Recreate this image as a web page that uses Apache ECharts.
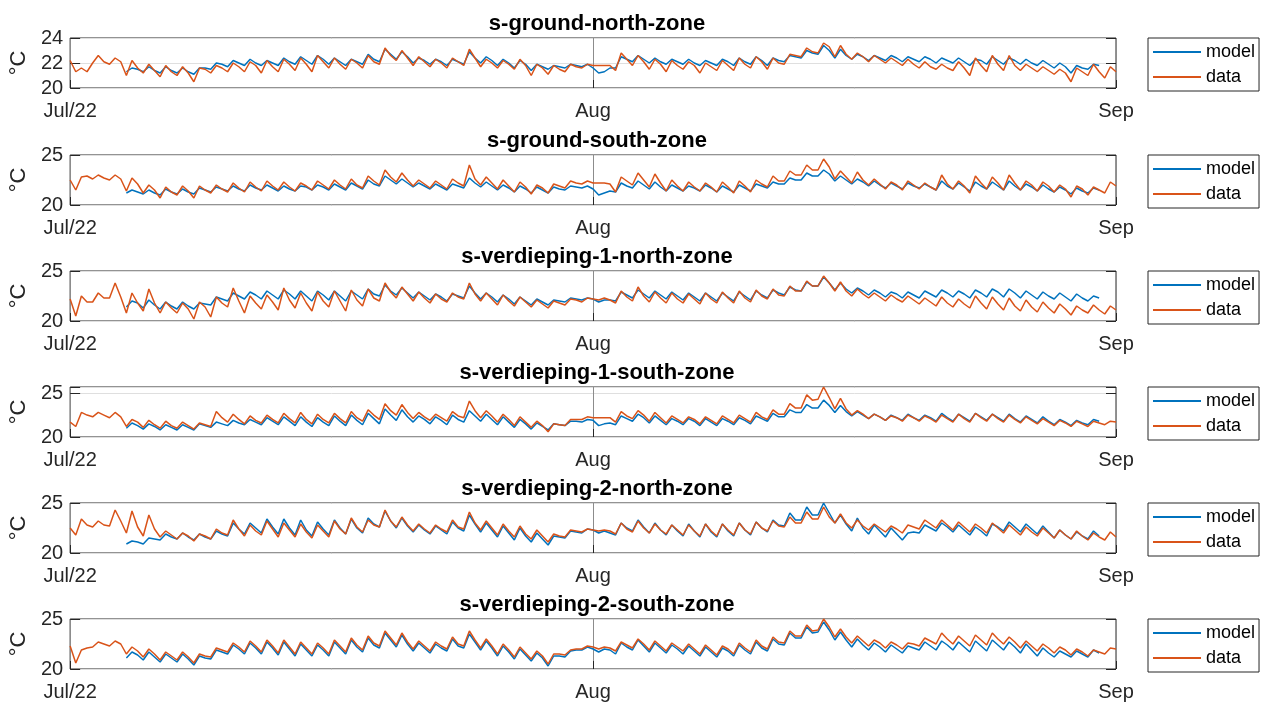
<!DOCTYPE html>
<html>
<head>
<meta charset="utf-8">
<script src="https://cdn.jsdelivr.net/npm/echarts/dist/echarts.min.js"></script>
<style>html,body{margin:0;padding:0;background:#fff}#c{width:1261px;height:704px}</style>
</head>
<body>
<div id="c"></div>
<script>
// Time axis: days since Jul 1 2022; samples every 8 hours
const STEP_DAYS = 1/3;
const MODEL_OFFSET = 10; // model starts Jul 4 08:00 (10 samples after Jul 1 00:00)
const xTickDays = [0, 31, 62];
const xTickLabels = ['Jul/22', 'Aug', 'Sep'];
const titles = ['s-ground-north-zone','s-ground-south-zone','s-verdieping-1-north-zone','s-verdieping-1-south-zone','s-verdieping-2-north-zone','s-verdieping-2-south-zone'];
const yMins = [20,20,20,20,20,20];
const yMaxs = [24,25,25,25.7,25,25];
const yTicks = [[20,22,24],[20,25],[20,25],[20,25],[20,25],[20,25]];
const seriesNames = ['model','data'];

const data1 = [22.2,21.3,21.6,21.3,22.0,22.6,22.1,21.9,22.4,22.1,21.0,22.2,21.6,21.2,21.9,21.4,20.9,21.8,21.3,21.0,21.7,21.2,20.5,21.6,21.5,21.2,21.8,21.6,21.3,22.0,
21.7,21.3,22.1,21.8,21.2,22.2,21.7,21.3,22.3,21.9,21.4,22.4,21.9,21.3,22.6,22.1,21.6,22.4,21.9,21.5,22.3,22.0,21.6,22.6,22.1,21.9,23.2,22.6,22.2,23.0,
22.4,21.8,22.5,22.1,21.7,22.3,22.0,21.6,22.4,22.1,21.8,23.1,22.4,21.7,22.3,22.0,21.6,22.2,21.9,21.5,22.3,21.8,21.0,21.9,21.6,21.1,21.8,21.5,21.3,21.9,
21.7,21.6,21.9,21.8,21.8,21.8,21.8,21.4,22.8,22.3,21.8,22.6,22.1,21.5,22.3,21.9,21.3,22.2,21.8,21.5,22.1,21.8,21.2,22.0,21.7,21.4,22.2,21.8,21.4,22.4,
21.9,21.6,22.5,22.1,21.5,22.4,22.0,21.9,22.7,22.6,22.5,23.2,22.9,22.8,23.6,23.3,22.5,23.4,22.7,22.3,22.8,22.5,22.1,22.6,22.3,22.0,22.4,22.1,21.8,22.3,
21.9,21.6,22.1,21.7,21.5,21.9,21.6,21.4,22.1,21.6,21.0,22.4,21.8,21.3,22.6,21.9,21.4,22.6,21.8,21.4,21.9,21.6,21.3,21.7,21.4,21.1,21.5,21.2,20.5,21.6,
21.3,21.0,21.9,21.3,20.8,21.7,21.3];
const model1 = [21.3,21.6,
21.5,21.3,21.7,21.4,21.2,21.7,21.4,21.2,21.6,21.3,21.1,21.6,21.6,21.5,22.0,21.9,21.7,22.2,
22.0,21.8,22.3,22.0,21.8,22.2,22.0,21.8,22.4,22.1,21.9,22.5,22.2,21.9,22.6,22.3,21.9,22.4,22.1,21.8,22.3,22.1,21.9,22.7,22.3,22.1,23.1,22.7,22.3,22.9,
22.5,22.0,22.4,22.2,21.9,22.3,22.1,21.8,22.3,22.1,21.9,22.9,22.4,22.0,22.5,22.2,21.8,22.3,22.0,21.6,22.2,21.9,21.4,21.9,21.7,21.5,21.8,21.7,21.6,21.9,
21.8,21.7,21.9,21.6,21.2,21.3,21.6,21.6,22.5,22.3,22.1,22.6,22.3,22.0,22.4,22.1,21.9,22.3,22.1,21.9,22.3,22.0,21.8,22.2,22.0,21.8,22.3,22.1,21.8,22.4,
22.1,21.9,22.5,22.2,21.8,22.4,22.2,22.1,22.6,22.5,22.4,23.0,22.8,22.7,23.4,23.0,22.4,23.1,22.6,22.3,22.7,22.5,22.2,22.6,22.4,22.2,22.6,22.4,22.1,22.5,
22.3,22.1,22.5,22.3,22.0,22.4,22.2,22.0,22.4,22.1,21.8,22.3,22.2,21.9,22.5,22.2,21.9,22.4,22.2,21.9,22.3,22.0,21.8,22.2,21.9,21.6,22.0,21.7,21.2,21.8,
21.6,21.5,21.9,21.8];

const data2 = [22.5,21.5,22.8,22.9,22.6,23.0,22.7,22.5,23.0,22.6,21.4,22.7,22.1,21.2,22.0,21.5,20.7,21.8,21.3,21.0,21.9,21.4,20.7,21.9,21.5,21.2,22.0,21.6,21.3,22.2,
21.7,21.3,22.3,21.8,21.4,22.4,21.9,21.5,22.3,21.8,21.4,22.2,21.9,21.5,22.4,22.0,21.6,22.5,22.0,21.6,22.6,22.0,21.7,22.9,22.4,22.0,23.5,22.8,22.3,23.2,
22.5,21.9,22.5,22.1,21.7,22.4,22.0,21.6,22.6,22.2,21.9,24.0,22.6,22.0,22.8,22.2,21.6,22.5,21.9,21.3,22.3,21.8,21.1,22.0,21.7,21.2,22.1,21.9,21.7,22.4,
22.2,22.1,22.4,22.2,22.2,22.2,22.1,21.3,22.8,22.4,22.0,23.2,22.5,21.8,23.1,22.2,21.4,22.5,21.9,21.4,22.3,21.8,21.4,22.2,21.8,21.3,22.3,21.8,21.2,22.4,
21.9,21.3,22.5,22.1,21.8,22.9,22.4,22.4,23.4,23.0,23.0,24.0,23.5,23.5,24.6,23.8,22.6,23.4,22.8,22.2,23.3,22.5,22.0,22.6,22.1,21.6,22.3,22.0,21.5,22.4,
22.0,21.6,22.2,21.8,21.5,23.0,22.1,21.6,22.4,21.9,21.2,22.9,22.2,21.6,22.8,22.2,21.5,23.0,22.2,21.5,22.4,22.0,21.4,22.3,21.9,21.3,22.0,21.6,20.8,21.9,
21.6,21.0,21.8,21.5,21.2,22.3,21.9];
const model2 = [21.2,21.5,
21.3,21.1,21.5,21.2,21.0,21.6,21.3,21.1,21.6,21.3,21.1,21.7,21.5,21.3,21.8,21.6,21.4,21.9,
21.6,21.4,22.0,21.7,21.5,22.0,21.7,21.4,21.9,21.6,21.4,21.9,21.8,21.5,22.0,21.8,21.5,22.1,21.8,21.5,22.2,21.9,21.6,22.5,22.1,21.9,22.9,22.5,22.1,22.6,
22.2,21.8,22.2,21.9,21.6,22.1,21.8,21.5,22.1,21.9,21.7,22.7,22.2,21.8,22.3,21.9,21.5,22.0,21.7,21.3,21.9,21.6,21.2,21.8,21.5,21.2,21.8,21.6,21.5,21.9,
21.8,21.7,21.9,21.6,21.0,21.2,21.4,21.3,22.2,21.9,21.7,22.4,22.0,21.6,22.3,21.8,21.4,22.0,21.7,21.4,21.9,21.7,21.4,22.0,21.7,21.3,21.9,21.6,21.3,22.0,
21.7,21.4,22.1,21.9,21.7,22.3,22.1,22.1,22.7,22.5,22.5,23.2,22.9,22.9,23.5,23.1,22.4,22.9,22.5,22.1,22.6,22.3,21.9,22.4,22.0,21.7,22.2,21.9,21.6,22.2,
21.9,21.7,22.1,21.8,21.5,22.4,21.9,21.6,22.2,21.8,21.4,22.3,21.9,21.6,22.3,21.9,21.5,22.4,21.9,21.5,22.1,21.8,21.4,22.0,21.6,21.3,21.8,21.5,21.1,21.7,
21.4,21.2,21.7,21.5];

const data3 = [22.2,20.5,22.5,21.9,21.9,22.8,22.3,22.3,23.8,22.4,20.8,22.8,21.8,21.0,23.2,21.8,20.8,21.9,21.3,20.8,21.8,21.2,20.2,21.9,21.4,20.4,22.4,21.8,21.4,23.3,
22.0,20.8,22.5,21.8,21.2,22.6,21.9,21.1,23.3,22.1,21.3,22.8,21.8,21.0,22.9,22.0,21.4,23.0,22.0,21.0,23.1,22.1,21.5,23.2,22.3,22.0,23.8,22.9,22.3,23.4,
22.7,22.0,22.9,22.3,21.8,22.7,22.2,21.9,22.8,22.4,22.2,23.8,22.7,22.0,22.8,22.2,21.6,22.6,22.0,21.5,22.4,21.9,21.4,22.1,21.7,21.3,22.0,21.8,21.6,22.2,
22.1,21.9,22.3,22.2,22.1,22.3,22.1,21.8,23.0,22.4,22.0,23.4,22.5,21.9,22.9,22.3,21.8,22.8,22.2,21.8,22.7,22.2,21.7,22.8,22.2,21.8,22.9,22.3,21.8,23.0,
22.3,21.9,23.1,22.5,22.2,23.2,22.6,22.5,23.5,23.0,23.0,24.0,23.5,23.5,24.5,23.8,23.0,23.9,23.0,22.5,23.2,22.7,22.3,22.8,22.4,22.0,22.6,22.2,21.9,22.5,
22.1,21.7,22.3,21.9,21.5,22.4,21.8,21.4,22.2,21.7,21.3,22.5,21.8,21.2,22.4,21.7,21.1,22.3,21.5,21.0,22.1,21.4,20.9,21.9,21.3,20.8,21.7,21.2,20.6,21.5,
21.1,20.8,21.6,21.1,20.7,21.5,21.1];
const model3 = [21.4,22.0,
21.8,21.3,22.1,21.6,21.2,21.9,21.5,21.2,21.9,21.5,21.2,21.8,21.7,21.6,22.4,22.2,22.0,22.8,
22.5,22.2,22.9,22.6,22.2,23.0,22.6,22.2,23.1,22.7,22.2,23.0,22.5,22.0,23.0,22.6,22.1,23.0,22.5,22.0,23.0,22.6,22.2,23.2,22.7,22.5,23.6,23.0,22.6,23.3,
22.8,22.3,22.9,22.5,22.1,22.7,22.4,22.0,22.7,22.5,22.3,23.5,22.8,22.2,22.8,22.4,21.9,22.6,22.2,21.7,22.4,22.0,21.6,22.2,21.9,21.6,22.1,22.0,21.9,22.3,
22.2,22.1,22.3,22.2,21.9,22.1,22.1,22.0,22.9,22.6,22.3,23.1,22.7,22.3,23.0,22.6,22.2,22.9,22.5,22.1,22.8,22.4,22.0,22.8,22.4,22.0,22.8,22.4,22.0,22.9,
22.5,22.1,23.0,22.6,22.3,23.1,22.8,22.6,23.4,23.1,23.0,23.9,23.5,23.5,24.4,23.8,23.1,23.8,23.2,22.8,23.3,23.0,22.6,23.1,22.8,22.4,22.9,22.7,22.3,22.9,
22.6,22.3,23.0,22.7,22.4,23.1,22.8,22.4,23.0,22.7,22.3,23.1,22.8,22.4,23.2,22.9,22.4,23.2,22.8,22.3,23.0,22.6,22.2,22.9,22.5,22.2,22.8,22.4,22.0,22.7,
22.3,22.0,22.5,22.3];

const data4 = [21.7,21.2,22.8,22.5,22.3,22.8,22.5,22.2,22.8,22.3,21.2,22.0,21.7,21.1,21.9,21.4,21.0,21.8,21.3,21.0,21.7,21.3,20.9,21.6,21.4,21.2,22.9,22.2,21.7,22.6,
22.0,21.5,22.4,21.9,21.6,22.5,22.0,21.6,22.7,22.1,21.6,22.8,22.0,21.5,22.6,22.0,21.6,22.7,22.1,21.6,22.9,22.2,21.8,23.1,22.5,22.0,23.8,23.0,22.5,23.7,
22.8,22.1,22.8,22.3,21.9,22.6,22.2,21.8,22.9,22.4,22.2,24.1,23.0,22.2,23.0,22.4,21.7,22.6,22.0,21.3,22.3,21.7,21.1,21.8,21.3,20.6,21.5,21.4,21.3,22.0,
22.0,22.0,22.3,22.2,22.2,22.2,22.2,21.7,22.9,22.4,22.1,23.0,22.5,21.8,22.8,22.2,21.6,22.4,22.0,21.6,22.3,22.0,21.5,22.3,21.9,21.5,22.4,22.0,21.6,22.5,
22.1,21.7,22.8,22.3,22.0,23.1,22.6,22.6,23.8,23.3,23.3,24.8,24.2,24.3,25.7,24.5,23.2,24.4,23.2,22.5,23.0,22.6,22.1,22.6,22.3,21.9,22.4,22.2,21.8,22.5,
22.2,21.8,22.4,22.1,21.7,22.5,22.1,21.7,22.6,22.1,21.7,22.7,22.2,21.8,22.6,22.1,21.7,22.5,22.0,21.6,22.3,21.9,21.5,22.1,21.7,21.3,21.9,21.6,21.2,21.8,
21.5,21.2,21.8,21.6,21.4,21.8,21.7];
const model4 = [21.0,21.6,
21.3,20.9,21.5,21.2,20.8,21.4,21.1,20.8,21.4,21.1,20.8,21.5,21.3,21.1,21.7,21.5,21.3,21.9,
21.6,21.4,22.0,21.7,21.4,22.2,21.8,21.4,22.3,21.8,21.3,22.3,21.7,21.2,22.2,21.7,21.3,22.4,21.8,21.3,22.5,21.9,21.4,22.7,22.1,21.5,23.2,22.5,21.9,23.1,
22.3,21.7,22.4,22.0,21.5,22.3,21.9,21.4,22.5,22.0,21.7,23.0,22.4,21.8,22.6,22.0,21.4,22.3,21.7,21.1,22.0,21.5,20.9,21.6,21.2,20.8,21.5,21.4,21.3,21.8,
21.8,21.7,22.0,21.9,21.3,21.5,21.6,21.4,22.4,22.1,21.8,22.6,22.2,21.6,22.4,21.9,21.4,22.1,21.8,21.4,22.1,21.8,21.3,22.1,21.7,21.3,22.1,21.8,21.4,22.2,
21.9,21.5,22.4,22.1,21.8,22.7,22.3,22.3,23.1,22.8,22.8,23.7,23.3,23.3,24.2,23.6,22.8,23.6,22.9,22.4,22.9,22.5,22.1,22.6,22.3,21.9,22.5,22.2,21.9,22.6,
22.2,21.9,22.5,22.2,21.8,22.7,22.2,21.8,22.6,22.2,21.8,22.7,22.3,21.9,22.6,22.2,21.8,22.6,22.1,21.7,22.4,22.0,21.6,22.3,21.8,21.4,22.0,21.7,21.3,21.9,
21.6,21.4,22.0,21.8];

const data5 = [22.5,21.8,23.4,22.8,22.6,23.2,22.8,22.7,24.3,23.2,22.0,24.2,22.6,21.7,23.8,22.4,21.6,22.2,21.8,21.4,22.0,21.7,21.2,21.9,21.7,21.4,22.4,22.0,21.8,23.3,
22.4,21.7,22.8,22.2,21.8,23.2,22.4,21.6,23.0,22.3,21.6,22.9,22.1,21.5,22.8,22.2,21.6,23.2,22.4,21.9,23.5,22.6,22.1,23.3,22.8,22.6,24.3,23.2,22.6,23.6,
22.8,22.2,22.9,22.4,22.0,22.8,22.4,22.1,23.3,22.6,22.4,24.1,23.0,22.3,23.2,22.5,21.8,22.9,22.2,21.6,22.7,21.9,21.4,22.3,21.7,21.1,21.9,21.7,21.6,22.3,
22.2,22.1,22.4,22.3,22.2,22.3,22.2,21.9,23.0,22.4,22.1,23.2,22.5,22.0,22.9,22.3,21.9,22.8,22.3,21.8,22.8,22.2,21.7,22.9,22.2,21.7,22.9,22.3,21.8,23.0,
22.3,21.9,23.1,22.5,22.2,23.2,22.7,22.6,23.6,23.0,23.0,24.1,23.4,23.4,24.6,23.6,23.0,23.9,23.0,22.5,23.3,22.7,22.3,22.9,22.5,22.1,22.7,22.4,22.0,22.8,
22.6,22.4,23.3,22.9,22.5,23.3,22.8,22.3,23.1,22.6,22.1,22.9,22.5,22.0,23.0,22.5,22.0,22.8,22.3,21.8,22.6,22.1,21.7,22.5,22.0,21.5,22.3,21.8,21.4,22.2,
21.7,21.3,22.0,21.6,21.3,22.1,21.6];
const model5 = [20.9,21.2,
21.1,20.9,21.5,21.4,21.3,21.9,21.6,21.4,22.0,21.6,21.3,21.9,21.6,21.4,22.2,21.9,21.7,23.0,
22.4,21.9,23.0,22.5,22.0,23.4,22.6,21.9,23.4,22.5,21.8,23.3,22.3,21.7,23.1,22.4,21.8,23.3,22.5,21.9,23.4,22.5,22.0,23.5,22.9,22.6,24.2,23.2,22.5,23.5,
22.7,22.1,22.8,22.3,21.9,22.7,22.3,21.9,23.1,22.5,22.2,23.8,22.9,22.1,23.0,22.3,21.6,22.7,22.0,21.3,22.5,21.7,21.1,22.0,21.4,20.8,21.7,21.6,21.5,22.2,
22.1,22.0,22.4,22.3,22.0,22.2,22.0,21.8,23.0,22.5,22.2,23.3,22.6,22.0,23.0,22.3,21.8,22.8,22.2,21.7,22.9,22.2,21.6,22.9,22.1,21.6,22.9,22.2,21.7,23.0,
22.3,21.8,23.1,22.5,22.1,23.3,22.8,22.7,24.0,23.3,23.3,24.6,23.8,23.8,25.0,24.0,23.0,23.8,22.9,22.2,23.5,22.5,21.9,22.8,22.2,21.6,22.5,21.9,21.3,22.0,
22.1,22.0,22.8,22.5,22.2,23.0,22.6,22.1,22.8,22.3,21.8,22.6,22.2,21.7,22.9,22.6,22.2,23.1,22.6,22.1,22.9,22.4,21.9,22.7,22.1,21.5,22.3,21.8,21.4,22.1,
21.7,21.4,22.2,21.7];

const data6 = [22.3,20.6,21.9,22.1,22.2,22.7,22.5,22.3,22.8,22.5,21.5,22.2,21.8,21.2,22.0,21.5,20.9,21.7,21.3,20.9,21.7,21.2,20.6,21.5,21.3,21.2,22.1,21.9,21.7,22.6,
22.2,21.7,22.8,22.3,21.7,22.9,22.3,21.6,22.9,22.2,21.5,22.7,22.1,21.5,22.6,22.1,21.5,22.9,22.3,21.7,23.1,22.4,21.9,23.3,22.6,22.3,23.8,23.1,22.4,23.6,
22.7,22.0,22.8,22.3,21.8,22.7,22.3,22.0,23.2,22.5,22.3,23.8,22.9,22.1,23.0,22.3,21.5,22.5,21.9,21.2,22.2,21.6,21.0,21.8,21.3,20.5,21.5,21.5,21.4,21.9,
22.0,22.0,22.3,22.2,22.0,22.2,22.1,21.8,22.7,22.4,22.1,23.0,22.5,21.9,22.8,22.3,21.8,22.6,22.2,21.8,22.5,22.0,21.5,22.4,21.9,21.4,22.3,22.0,21.5,22.6,
22.1,21.7,22.9,22.3,22.0,23.2,22.7,22.6,23.8,23.3,23.3,24.4,23.8,23.9,25.0,24.2,23.2,24.0,23.2,22.6,23.3,22.8,22.3,22.9,22.6,22.1,22.7,22.4,22.0,22.6,
22.5,22.3,23.1,22.8,22.5,23.6,23.0,22.5,23.3,22.8,22.3,23.4,22.9,22.4,23.6,23.0,22.5,23.2,22.7,22.1,22.8,22.3,21.8,22.5,22.1,21.6,22.2,21.9,21.4,22.0,
21.7,21.3,21.9,21.7,21.5,22.1,22.0];
const model6 = [21.1,21.7,
21.4,20.9,21.7,21.2,20.7,21.5,21.1,20.7,21.5,21.0,20.4,21.3,21.1,21.0,21.9,21.7,21.5,22.4,
22.0,21.5,22.6,22.1,21.5,22.7,22.1,21.4,22.7,22.0,21.3,22.5,21.9,21.3,22.4,21.9,21.3,22.7,22.1,21.5,22.9,22.2,21.7,23.1,22.4,22.1,23.6,22.9,22.2,23.4,
22.5,21.8,22.6,22.1,21.6,22.5,22.1,21.8,23.0,22.3,22.1,23.5,22.7,21.9,22.8,22.1,21.3,22.3,21.7,21.0,22.0,21.4,20.8,21.6,21.1,20.3,21.3,21.3,21.2,21.8,
21.9,21.9,22.2,22.0,21.7,22.0,21.9,21.5,22.6,22.2,21.9,22.9,22.3,21.7,22.6,22.1,21.6,22.4,22.0,21.5,22.3,21.8,21.3,22.2,21.7,21.2,22.1,21.8,21.3,22.4,
21.9,21.5,22.7,22.1,21.8,23.0,22.5,22.4,23.6,23.1,23.1,24.2,23.6,23.7,24.7,23.9,22.9,23.7,22.9,22.2,23.0,22.4,21.9,22.6,22.2,21.7,22.4,22.0,21.6,22.3,
22.1,21.9,22.7,22.3,21.9,22.8,22.4,21.9,22.7,22.2,21.7,22.8,22.3,21.8,22.9,22.4,21.9,22.7,22.2,21.6,22.5,21.9,21.3,22.1,21.6,21.2,21.8,21.5,21.2,21.8,
21.5,21.2,21.9,21.6];

const dataSets = [data1,data2,data3,data4,data5,data6];
const modelSets = [model1,model2,model3,model4,model5,model6];

const FONT = '"Liberation Sans", Arial, Helvetica, sans-serif';
const TXT = '#262626';
const BLUE = '#0072BD', ORANGE = '#D95319';
const gridTops = [38, 155, 271, 387, 503, 619];
const GRID_H = 50, GRID_L = 68, GRID_R = 145;

function pts(vals, offset) { return vals.map((v, i) => [(offset + i) * STEP_DAYS, v]); }

const grids = [], xAxes = [], yAxes = [], series = [], titleArr = [], legends = [];
for (let k = 0; k < 6; k++) {
  const top = gridTops[k];
  grids.push({ left: GRID_L, right: GRID_R, top: top, height: GRID_H, show: true, borderColor: TXT, borderWidth: 1, backgroundColor: 'transparent', containLabel: false });
  xAxes.push({
    type: 'value', gridIndex: k, min: xTickDays[0], max: xTickDays[2], interval: 31,
    axisLine: { show: false },
    axisTick: { show: true, inside: true, length: 8, lineStyle: { color: TXT } },
    splitLine: { show: true, lineStyle: { color: '#8c8c8c', width: 1 } },
    axisLabel: { margin: 13, fontSize: 20, color: TXT, fontFamily: FONT,
      formatter: v => { const i = xTickDays.indexOf(Math.round(v)); return i >= 0 ? xTickLabels[i] : ''; } }
  });
  yAxes.push({
    type: 'value', gridIndex: k, min: yMins[k], max: yMaxs[k], interval: yTicks[k][1] - yTicks[k][0], position: 'left',
    name: '°C', nameLocation: 'middle', nameGap: 36, nameRotate: 90,
    nameTextStyle: { fontSize: 22, color: TXT, fontFamily: FONT },
    axisLine: { show: false },
    axisTick: { show: true, inside: true, length: 10, lineStyle: { color: TXT } },
    splitLine: { show: true, lineStyle: { color: '#dfdfdf', width: 1 } },
    axisLabel: { margin: 7, fontSize: 20, color: TXT, fontFamily: FONT,
      formatter: v => yTicks[k].indexOf(v) >= 0 ? String(v) : '' }
  });
  titleArr.push({ text: titles[k], left: GRID_L + (1261 - GRID_L - GRID_R) / 2, top: top - 30, textAlign: 'center',
    textStyle: { fontSize: 22, fontWeight: 'bold', color: '#000', fontFamily: FONT } });
  legends.push({ data: seriesNames, orient: 'vertical', left: 1148, top: top, icon: 'rect', itemWidth: 48, itemHeight: 2, itemGap: 7,
    padding: [5, 4, 5, 5], borderColor: TXT, borderWidth: 1, backgroundColor: '#fff', selectedMode: false,
    textStyle: { fontSize: 18, color: '#000', fontFamily: FONT } });
}
// right-side mirrored y ticks
for (let k = 0; k < 6; k++) {
  yAxes.push({ type: 'value', gridIndex: k, min: yMins[k], max: yMaxs[k], interval: yTicks[k][1] - yTicks[k][0], position: 'right',
    axisLine: { show: false }, axisLabel: { show: false }, splitLine: { show: false },
    axisTick: { show: true, inside: true, length: 10, lineStyle: { color: TXT } } });
}
for (let k = 0; k < 6; k++) {
  series.push({ name: 'model', type: 'line', xAxisIndex: k, yAxisIndex: k, data: pts(modelSets[k], MODEL_OFFSET),
    symbol: 'none', showSymbol: false, lineStyle: { color: BLUE, width: 1.5 }, itemStyle: { color: BLUE }, animation: false, z: 2 });
  series.push({ name: 'data', type: 'line', xAxisIndex: k, yAxisIndex: k, data: pts(dataSets[k], 0),
    symbol: 'none', showSymbol: false, lineStyle: { color: ORANGE, width: 1.5 }, itemStyle: { color: ORANGE }, animation: false, z: 3 });
}

const chart = echarts.init(document.getElementById('c'), null, { renderer: 'canvas' });
chart.setOption({ animation: false, backgroundColor: '#fff', title: titleArr, legend: legends, grid: grids, xAxis: xAxes, yAxis: yAxes, series: series });
</script>
</body>
</html>
